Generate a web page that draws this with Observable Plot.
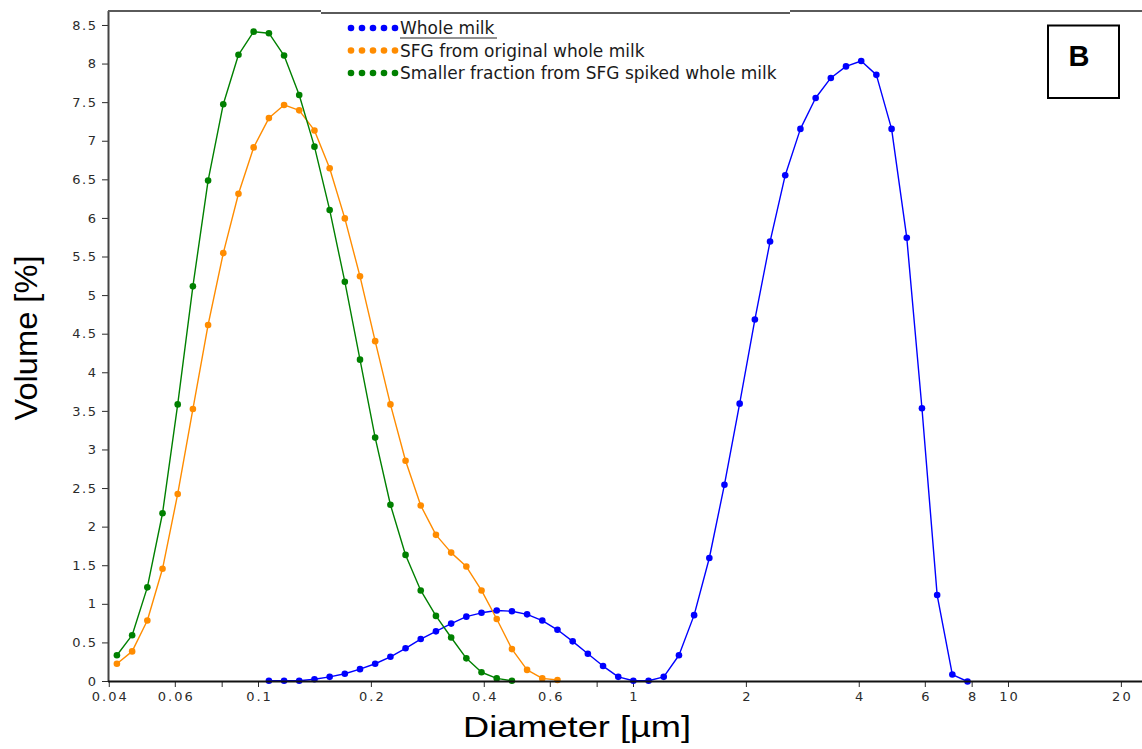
<!DOCTYPE html>
<html><head><meta charset="utf-8">
<script src="https://cdn.jsdelivr.net/npm/d3@7"></script>
<script src="https://cdn.jsdelivr.net/npm/@observablehq/plot@0.6"></script>
<style>
html,body{margin:0;padding:0;background:#fff;}
g[aria-label="text"] text{letter-spacing:2px;}
g[aria-label="y-axis tick label"] text{letter-spacing:1.5px;}
</style></head><body><div id="chart"></div>
<script>
// Channel centre diameters (µm)
const diameters = [0.04192, 0.04603, 0.05053, 0.05547, 0.06089, 0.06684, 0.07338, 0.08055, 0.08843, 0.09707,
  0.1066, 0.1170, 0.1284, 0.1410, 0.1548, 0.1699, 0.1865, 0.2047, 0.2248, 0.2467,
  0.2708, 0.2973, 0.3264, 0.3583, 0.3933, 0.4318, 0.4740, 0.5203, 0.5712, 0.6270,
  0.6883, 0.7556, 0.8295, 0.9106, 0.9990, 1.097, 1.204, 1.322, 1.451, 1.593,
  1.748, 1.919, 2.107, 2.313, 2.539, 2.787, 3.060, 3.359, 3.687, 4.048,
  4.443, 4.878, 5.355, 5.878, 6.453, 7.084, 7.776];
const wholeMilk = [null, null, null, null, null, null, null, null, null, null,
  0.01, 0.01, 0.01, 0.03, 0.06, 0.10, 0.16, 0.23, 0.32, 0.43,
  0.55, 0.65, 0.75, 0.84, 0.89, 0.92, 0.91, 0.87, 0.79, 0.67,
  0.52, 0.36, 0.20, 0.06, 0.01, 0.01, 0.06, 0.34, 0.86, 1.60,
  2.55, 3.60, 4.69, 5.70, 6.56, 7.16, 7.56, 7.82, 7.97, 8.04,
  7.86, 7.16, 5.75, 3.54, 1.12, 0.09, 0.00];
const sfgOriginal = [0.23, 0.39, 0.79, 1.46, 2.43, 3.53, 4.62, 5.55, 6.32, 6.92,
  7.30, 7.47, 7.40, 7.14, 6.65, 6.00, 5.25, 4.41, 3.59, 2.86,
  2.28, 1.90, 1.67, 1.49, 1.18, 0.81, 0.42, 0.15, 0.04, 0.02];
const smallerFraction = [0.34, 0.60, 1.22, 2.18, 3.59, 5.12, 6.49, 7.48, 8.12, 8.42,
  8.40, 8.11, 7.60, 6.93, 6.11, 5.18, 4.17, 3.16, 2.29, 1.64,
  1.18, 0.85, 0.57, 0.30, 0.12, 0.04, 0.01];
const seriesNames = ["Whole milk", "SFG from original whole milk", "Smaller fraction from SFG spiked whole milk"];
const seriesColors = ["#0000ff", "#ff8c00", "#008000"];
const xTicks = [0.04, 0.06, 0.08, 0.1, 0.2, 0.4, 0.6, 0.8, 1, 2, 4, 6, 8, 10, 20];
const xTickLabels = ["0.04", "0.06", "", "0.1", "0.2", "0.4", "0.6", "", "1", "2", "4", "6", "8", "10", "20"];
const yTicks = [0, 0.5, 1, 1.5, 2, 2.5, 3, 3.5, 4, 4.5, 5, 5.5, 6, 6.5, 7, 7.5, 8, 8.5];
const yTickLabels = ["0", "0.5", "1", "1.5", "2", "2.5", "3", "3.5", "4", "4.5", "5", "5.5", "6", "6.5", "7", "7.5", "8", "8.5"];
const xDomain = [0.03981, 22.77];
const yDomain = [0, 8.681];
const xLabel = "Diameter [µm]";
const yLabel = "Volume [%]";
const panelLabel = "B";

const rows = [];
[wholeMilk, sfgOriginal, smallerFraction].forEach((vals, s) =>
  vals.forEach((v, i) => { if (v != null) rows.push({series: seriesNames[s], diameter: diameters[i], volume: v}); }));
const xLabelMap = new Map(xTicks.map((t, i) => [t, xTickLabels[i]]));
const yLabelMap = new Map(yTicks.map((t, i) => [t, yTickLabels[i]]));

const chart = Plot.plot({
  width: 1142, height: 749,
  marginLeft: 108, marginRight: 0, marginTop: 11, marginBottom: 68,
  style: {fontFamily: "DejaVu Sans", fontSize: "13px", color: "#2b2b2b", background: "#fff", overflow: "visible"},
  x: {type: "log", domain: xDomain},
  y: {domain: yDomain},
  color: {domain: seriesNames, range: seriesColors},
  marks: [
    Plot.axisX(xTicks, {tickFormat: () => "", tickSize: 6, label: null}),
    Plot.text(xTicks, {x: d => d, text: d => xLabelMap.get(d), frameAnchor: "bottom", dy: 19, dx: 1, fill: "#2b2b2b", fontSize: 13}),
    Plot.axisY(yTicks, {tickFormat: d => yLabelMap.get(d), tickSize: 6, tickPadding: 5, label: null}),
    Plot.line(rows, {x: "diameter", y: "volume", z: "series", stroke: "series", strokeWidth: 1.4}),
    Plot.dot(rows, {x: "diameter", y: "volume", fill: "series", r: 3.3}),
    Plot.ruleX([xDomain[0]], {stroke: "#444", strokeWidth: 2}),
    Plot.ruleY([0], {stroke: "#111", strokeWidth: 2})
  ]
});
document.getElementById("chart").appendChild(chart);

const ov = d3.select(chart).append("g").attr("text-anchor", "start");
// top frame with legend box edge
[[108, 321, 11], [321, 790, 13], [790, 1142, 11]].forEach(([a, b, y]) =>
  ov.append("line").attr("x1", a).attr("x2", b).attr("y1", y).attr("y2", y)
    .attr("stroke", "#5a5a5a").attr("stroke-width", 2));
// legend
const legendY = [28, 50.5, 73];
seriesNames.forEach((name, k) => {
  for (let j = 0; j < 5; j++)
    ov.append("circle").attr("cx", 351 + j * 11).attr("cy", legendY[k]).attr("r", 3.3).attr("fill", seriesColors[k]);
  ov.append("text").attr("x", 400).attr("y", legendY[k]).attr("dy", "0.36em").attr("text-anchor", "start")
    .attr("font-family", "DejaVu Sans").attr("font-size", 17).attr("fill", "#1a1a1a").text(name);
});
ov.append("line").attr("x1", 400).attr("x2", 497).attr("y1", 38).attr("y2", 38).attr("stroke", "#222").attr("stroke-width", 1);
// panel label
ov.append("rect").attr("x", 1048).attr("y", 25.5).attr("width", 71).attr("height", 72.5)
  .attr("fill", "#fff").attr("stroke", "#000").attr("stroke-width", 2);
ov.append("text").attr("x", 1079).attr("y", 66).attr("text-anchor", "middle")
  .attr("font-family", "Liberation Sans, Arial, sans-serif").attr("font-weight", "bold").attr("font-size", 29)
  .attr("fill", "#000").text(panelLabel);
// axis titles
ov.append("text").attr("transform", "translate(37,338) rotate(-90)").attr("text-anchor", "middle")
  .attr("font-family", "Liberation Sans, Arial, sans-serif").attr("font-size", 31).attr("fill", "#000")
  .attr("textLength", 165).attr("lengthAdjust", "spacingAndGlyphs").text(yLabel);
ov.append("text").attr("x", 577).attr("y", 737).attr("text-anchor", "middle")
  .attr("font-family", "Liberation Sans, Arial, sans-serif").attr("font-size", 29).attr("fill", "#000")
  .attr("textLength", 228).attr("lengthAdjust", "spacingAndGlyphs").text(xLabel);
</script></body></html>
